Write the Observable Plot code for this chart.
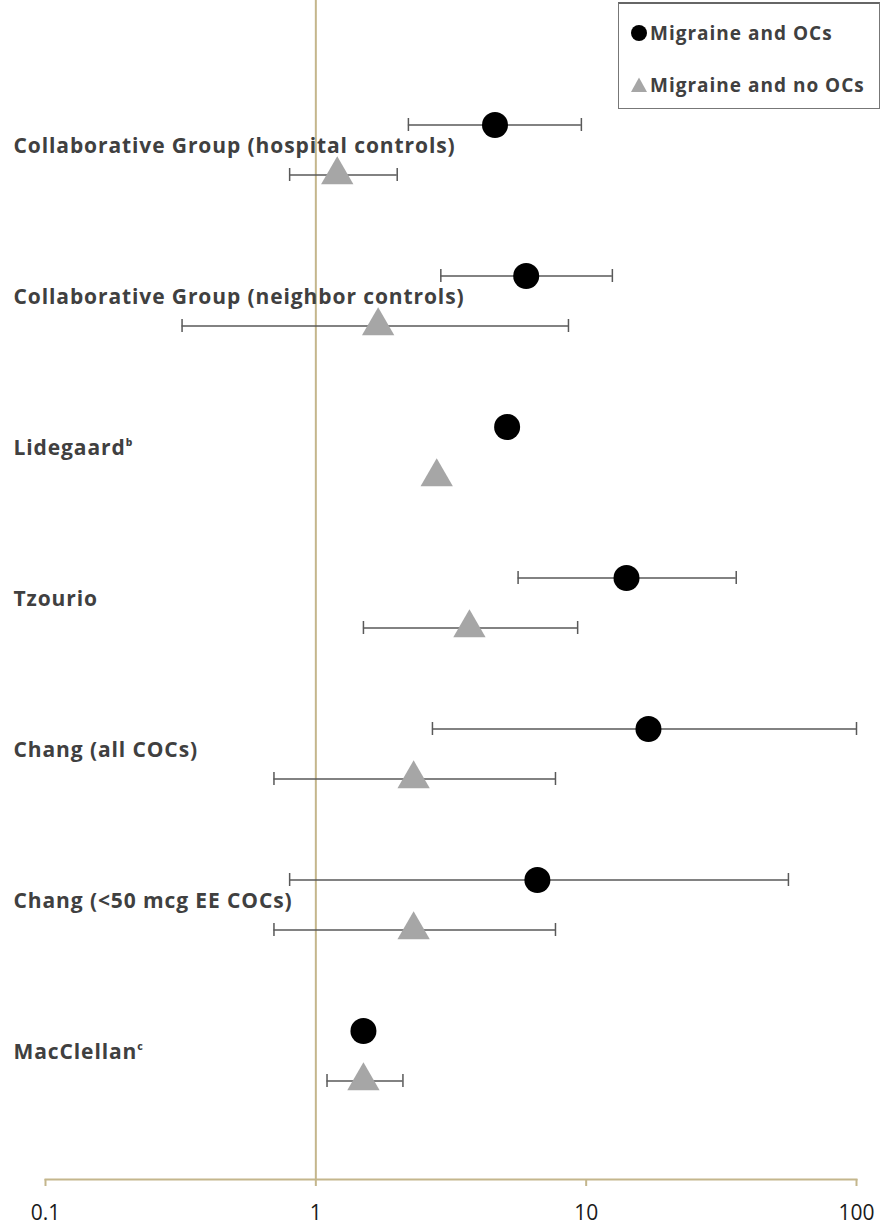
<!DOCTYPE html>
<html>
<head>
<meta charset="utf-8">
<script src="https://cdn.jsdelivr.net/npm/d3@7"></script>
<script src="https://cdn.jsdelivr.net/npm/@observablehq/plot@0.6"></script>
<style>
  body { margin: 0; background: #fff; }
  #wrap { position: relative; width: 882px; height: 1229px; font-family: "Open Sans", Lato, sans-serif; }
  #legend { position: absolute; left: 618px; top: 2px; width: 262px; height: 107px; border: 1px solid #777; border-top: 2px solid #666; background: #fff; box-sizing: border-box; }
  .li { position: absolute; left: 11px; font-weight: bold; font-size: 19px; letter-spacing: 1px; color: #404040; display: flex; align-items: center; white-space: nowrap; line-height: 20px; }
  .li svg { margin-right: 2px; }
</style>
</head>
<body>
<div id="wrap">
  <div id="chart"></div>
  <div id="legend">
    <div class="li" style="top:19px"><svg width="18" height="18"><circle cx="9" cy="9" r="8" fill="#000"/></svg>Migraine and OCs</div>
    <div class="li" style="top:71px"><svg width="18" height="18"><path d="M9,1.5 L17,16 L1,16 Z" fill="#a6a6a6"/></svg>Migraine and no OCs</div>
  </div>
</div>
<script>
const studies = [
  "Collaborative Group (hospital controls)",
  "Collaborative Group (neighbor controls)",
  "Lidegaard\u1D47",
  "Tzourio",
  "Chang (all COCs)",
  "Chang (<50 mcg EE COCs)",
  "MacClellan\u1D9C"
];
// Migraine and OCs
const ocEst  = [4.6, 6.0, 5.1, 14.1, 17.0, 6.6, 1.5];
const ocLo   = [2.2, 2.9, null, 5.6, 2.7, 0.8, null];
const ocHi   = [9.6, 12.5, null, 35.9, 100, 56, null];
// Migraine and no OCs
const noEst  = [1.2, 1.7, 2.8, 3.7, 2.3, 2.3, 1.5];
const noLo   = [0.8, 0.32, null, 1.5, 0.7, 0.7, 1.1];
const noHi   = [2.0, 8.6, null, 9.3, 7.7, 7.7, 2.1];
const xTicks = [0.1, 1, 10, 100];

const oc = studies.map((s, i) => ({study: s, est: ocEst[i], lo: ocLo[i], hi: ocHi[i]}));
const no = studies.map((s, i) => ({study: s, est: noEst[i], lo: noLo[i], hi: noHi[i]}));
const ocCI = oc.filter(d => d.lo != null);
const noCI = no.filter(d => d.lo != null);

const tan = "#c4b68c";
const barColor = "#595959";
const off = 25;
const capInset = 69;

const chart = Plot.plot({
  width: 882,
  height: 1229,
  marginLeft: 45,
  marginRight: 26,
  marginTop: 0,
  marginBottom: 50,
  insetTop: 74,
  insetBottom: 48,
  style: {fontFamily: "'Open Sans', Lato, sans-serif", background: "#fff"},
  x: {type: "log", domain: [0.1, 100]},
  y: {type: "band", domain: studies, padding: 0, axis: null},
  marks: [
    Plot.ruleX([1], {stroke: tan, strokeWidth: 2}),
    Plot.frame({anchor: "bottom", stroke: tan, strokeWidth: 2}),
    Plot.axisX(xTicks, {tickSize: 7, stroke: tan, strokeWidth: 2, strokeOpacity: 1, tickFormat: d => String(d), fontSize: 21, fill: "#1a1a1a", tickPadding: 19, label: null}),
    // error bars: OCs
    Plot.ruleY(ocCI, {y: "study", x1: "lo", x2: "hi", dy: -off, stroke: barColor, strokeWidth: 1.5}),
    Plot.tickX(ocCI, {y: "study", x: "lo", dy: -off, insetTop: capInset, insetBottom: capInset, stroke: barColor, strokeWidth: 1.5}),
    Plot.tickX(ocCI, {y: "study", x: "hi", dy: -off, insetTop: capInset, insetBottom: capInset, stroke: barColor, strokeWidth: 1.5}),
    // error bars: no OCs
    Plot.ruleY(noCI, {y: "study", x1: "lo", x2: "hi", dy: off, stroke: barColor, strokeWidth: 1.5}),
    Plot.tickX(noCI, {y: "study", x: "lo", dy: off, insetTop: capInset, insetBottom: capInset, stroke: barColor, strokeWidth: 1.5}),
    Plot.tickX(noCI, {y: "study", x: "hi", dy: off, insetTop: capInset, insetBottom: capInset, stroke: barColor, strokeWidth: 1.5}),
    // labels
    Plot.text(studies, {y: d => d, frameAnchor: "left", dx: -32, textAnchor: "start", fontSize: 21, fontWeight: "bold", fill: "#404040", dy: -4}),
    // points
    Plot.dot(oc, {y: "study", x: "est", dy: -off, r: 13, fill: "#000", symbol: "circle"}),
    Plot.dot(no, {y: "study", x: "est", dy: off, r: 12, fill: "#a6a6a6", symbol: "triangle"})
  ]
});
chart.querySelectorAll("text").forEach(t => {
  if (studies.includes(t.textContent)) t.setAttribute("letter-spacing", "0.9");
});
document.getElementById("chart").appendChild(chart);
</script>
</body>
</html>
